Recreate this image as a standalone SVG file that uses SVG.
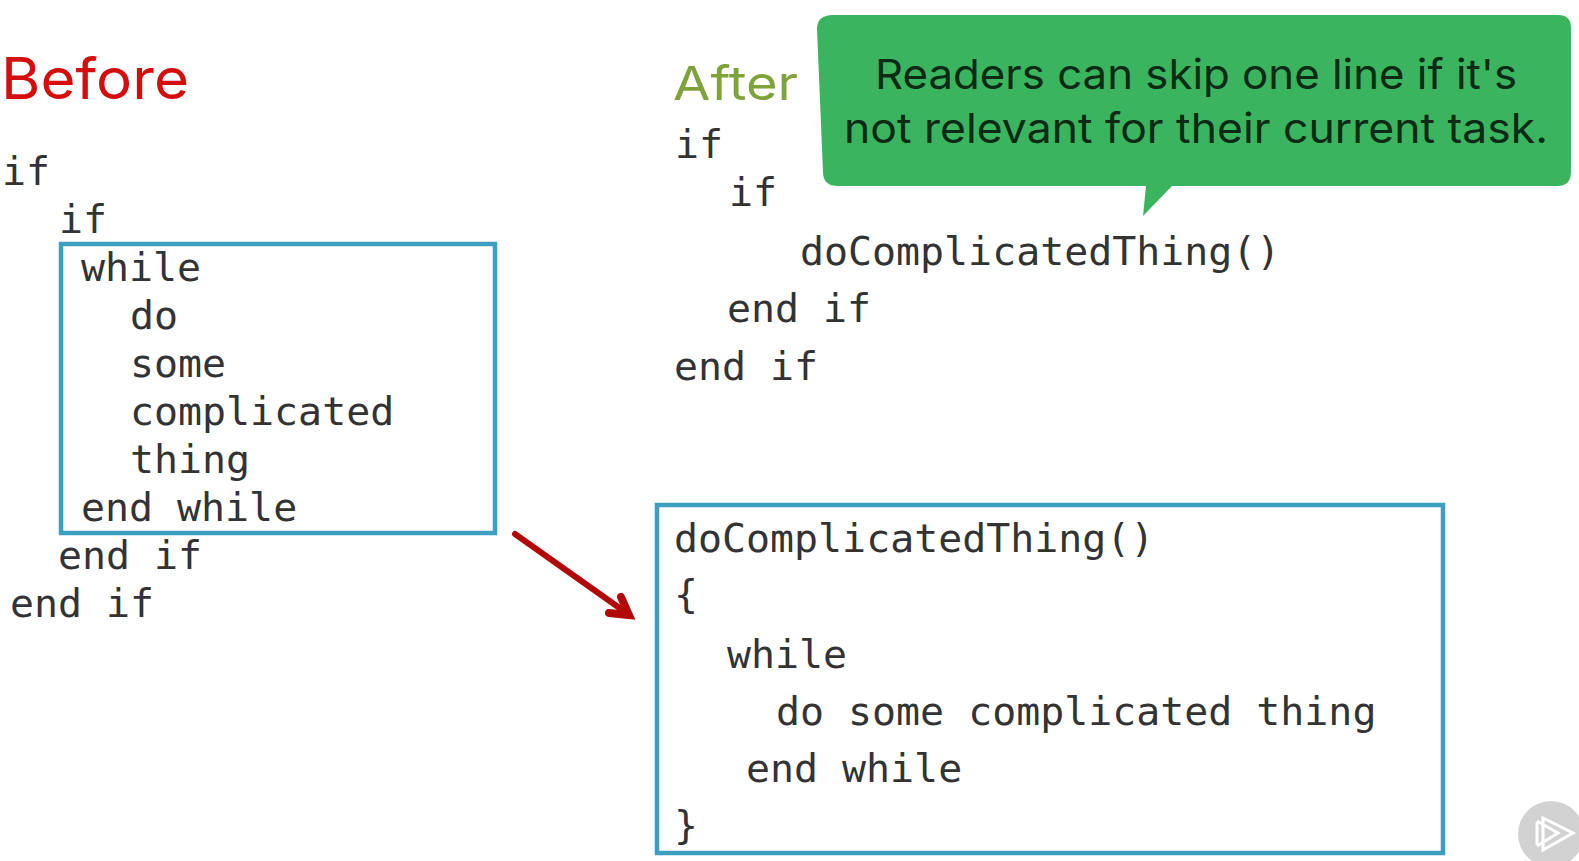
<svg xmlns="http://www.w3.org/2000/svg" width="1579" height="861" viewBox="0 0 1579 861">
<defs>
<style>
.code{font-family:"DejaVu Sans Mono","Liberation Mono",monospace;font-size:39.9px;fill:#333333}
.head{font-family:"Inter","Noto Sans",sans-serif}
.box{fill:none;stroke:#3d9fc0;stroke-width:4.5}
.call{font-family:"Inter","Noto Sans",sans-serif;font-size:41px;fill:#0d2a14;text-anchor:middle}
</style>
</defs>
<rect width="1579" height="861" fill="#ffffff"/>
<g id="before">
<text class="head" x="1" y="99" font-size="57" fill="#d40d0d" textLength="188" lengthAdjust="spacingAndGlyphs">Before</text>
<rect class="box" x="61" y="244" width="434" height="289"/>
<text class="code" x="2" y="185">if</text>
<text class="code" x="59" y="233">if</text>
<text class="code" x="81" y="281">while</text>
<text class="code" x="130" y="329">do</text>
<text class="code" x="130" y="377">some</text>
<text class="code" x="130" y="425">complicated</text>
<text class="code" x="130" y="473">thing</text>
<text class="code" x="81" y="521">end while</text>
<text class="code" x="58" y="569">end if</text>
<text class="code" x="10" y="617">end if</text>
</g>
<g id="after">
<text class="head" x="673" y="100" font-size="47" fill="#7ea33a" textLength="125" lengthAdjust="spacingAndGlyphs">After</text>
<text class="code" x="675" y="158">if</text>
<text class="code" x="729" y="206">if</text>
<text class="code" x="800" y="265">doComplicatedThing()</text>
<text class="code" x="727" y="322">end if</text>
<text class="code" x="674" y="380">end if</text>
</g>
<g id="callout">
<path d="M833 15H1558Q1571 15 1571 28L1571 172Q1571 186 1557 186H1172L1143 216L1146 186H838Q823 186 823 172L817 29Q817 15 833 15Z" fill="#3bb45f"/>
<text class="call" x="1196" y="89" textLength="642" lengthAdjust="spacingAndGlyphs">Readers can skip one line if it's</text>
<text class="call" x="1196" y="143" textLength="704" lengthAdjust="spacingAndGlyphs">not relevant for their current task.</text>
</g>
<g id="extracted">
<rect class="box" x="657" y="505" width="786" height="348"/>
<text class="code" x="674" y="552">doComplicatedThing()</text>
<text class="code" x="674" y="608">{</text>
<text class="code" x="727" y="668">while</text>
<text class="code" x="776" y="725">do some complicated thing</text>
<text class="code" x="746" y="782">end while</text>
<text class="code" x="674" y="839">}</text>
</g>
<g id="connectors">
<path d="M515 534L628 614" fill="none" stroke="#b30808" stroke-width="6" stroke-linecap="round"/>
<path d="M621 597L629 615L609 613" fill="none" stroke="#b30808" stroke-width="8" stroke-linecap="round" stroke-linejoin="miter"/>
</g>
<g id="logo">
<circle cx="1551" cy="834" r="33" fill="#d2d2d2"/>
<path d="M1537 822L1537 845M1543 818L1573 833L1543 850Z M1537 821L1558 833L1537 846" fill="none" stroke="#ffffff" stroke-width="3"/>
</g>
</svg>
